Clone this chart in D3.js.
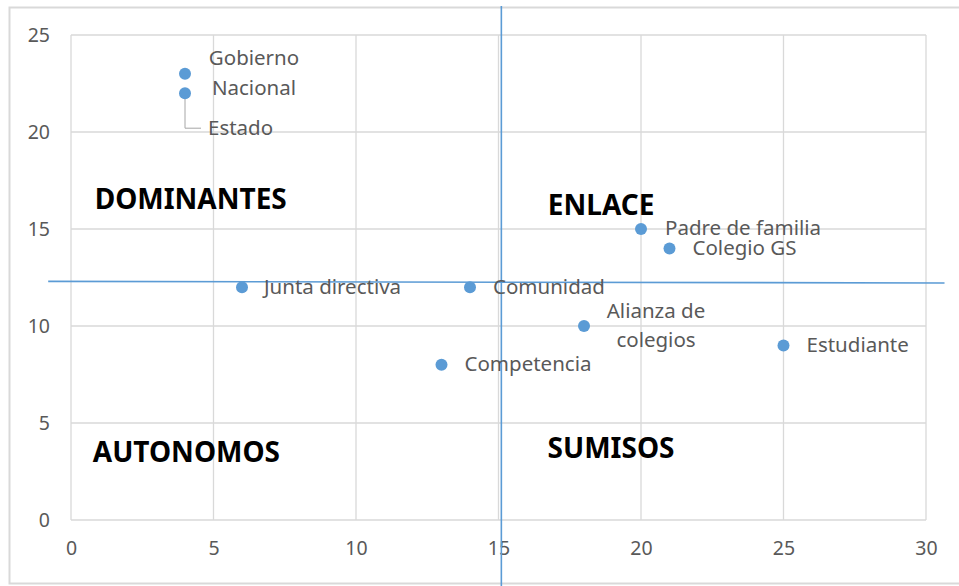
<!DOCTYPE html>
<html>
<head>
<meta charset="utf-8">
<script src="https://cdn.jsdelivr.net/npm/d3@7"></script>
<style>
  body { margin: 0; background: #fff; }
  svg { display: block; }
</style>
</head>
<body>
<div id="chart"></div>
<script>
// scatter of actors by influence (x) vs dependency (y)
var names = ["Gobierno Nacional", "Estado", "Junta directiva", "Comunidad", "Competencia",
             "Alianza de colegios", "Padre de familia", "Colegio GS", "Estudiante"];
var xValues = [4, 4, 6, 14, 13, 18, 20, 21, 25];
var yValues = [23, 22, 12, 12, 8, 10, 15, 14, 9];
var xTicks = [0, 5, 10, 15, 20, 25, 30];
var yTicks = [0, 5, 10, 15, 20, 25];
var quadrantNames = ["DOMINANTES", "ENLACE", "AUTONOMOS", "SUMISOS"];
var quadrantX = [4.2, 18.6, 4.05, 18.95];
var quadrantY = [16.45, 16.1, 3.4, 3.6];
// the two dividing lines, in data units
var splitX = 15.1;
var splitY = 12.27;

var width = 959, height = 586;
var margin = {top: 35, right: 33, bottom: 66, left: 71};

var svg = d3.select("#chart").append("svg")
    .attr("width", width).attr("height", height);

// outer chart border
svg.append("rect")
   .attr("x", 9.5).attr("y", 7.5)
   .attr("width", 960).attr("height", 576)
   .attr("fill", "none").attr("stroke", "#d9d9d9").attr("stroke-width", 2);

var x = d3.scaleLinear().domain([0, 30]).range([margin.left, width - margin.right]);
var y = d3.scaleLinear().domain([0, 25]).range([height - margin.bottom, margin.top]);

var font = "'Noto Sans', 'Open Sans', sans-serif";
var tickSize = "19.5px";
var labelSize = "20.5px";

// gridlines
svg.append("g")
   .selectAll("line").data(xTicks).enter().append("line")
   .attr("x1", function(d) { return x(d); }).attr("x2", function(d) { return x(d); })
   .attr("y1", y(0)).attr("y2", y(25))
   .attr("stroke", "#d9d9d9").attr("stroke-width", 1.3);

svg.append("g")
   .selectAll("line").data(yTicks).enter().append("line")
   .attr("x1", x(0)).attr("x2", x(30))
   .attr("y1", function(d) { return y(d); }).attr("y2", function(d) { return y(d); })
   .attr("stroke", "#d9d9d9").attr("stroke-width", 1.3);

// axes, only labels
var xAxis = svg.append("g")
   .attr("transform", "translate(0," + (y(0) + 14) + ")")
   .call(d3.axisBottom(x).tickValues(xTicks).tickSize(0).tickPadding(7));
var yAxis = svg.append("g")
   .attr("transform", "translate(" + (x(0) - 21) + ",0)")
   .call(d3.axisLeft(y).tickValues(yTicks).tickSize(0).tickPadding(0));
[xAxis, yAxis].forEach(function(a) {
  a.select(".domain").remove();
  a.selectAll("text").attr("fill", "#595959")
   .style("font-family", font).style("font-size", tickSize);
});

// quadrant dividers
svg.append("line")
   .attr("x1", x(-0.8)).attr("x2", x(30.65))
   .attr("y1", y(splitY + 0.03)).attr("y2", y(splitY - 0.05))
   .attr("stroke", "#5b9bd5").attr("stroke-width", 1.6);
svg.append("line")
   .attr("x1", x(splitX)).attr("x2", x(splitX))
   .attr("y1", y(26.5)).attr("y2", y(-3.5))
   .attr("stroke", "#5b9bd5").attr("stroke-width", 1.6);

// leader line for Estado
svg.append("path")
   .attr("d", "M" + x(xValues[1]) + "," + y(yValues[1]) +
              "V" + (y(yValues[1]) + 35) + "H" + (x(xValues[1]) + 16))
   .attr("fill", "none").attr("stroke", "#a6a6a6").attr("stroke-width", 1);

// points
svg.append("g")
   .selectAll("circle").data(names).enter().append("circle")
   .attr("cx", function(d, i) { return x(xValues[i]); })
   .attr("cy", function(d, i) { return y(yValues[i]); })
   .attr("r", 6)
   .attr("fill", "#5b9bd5");

// point labels: [dx, dy, anchor, wrap]
var labelLayout = {
  "Gobierno Nacional": [69, 0, "middle", true],
  "Estado": [23, 36, "start", false],
  "Junta directiva": [22, 1, "start", false],
  "Comunidad": [23, 1, "start", false],
  "Competencia": [23, 1, "start", false],
  "Alianza de colegios": [72, 0, "middle", true],
  "Padre de familia": [24, 0, "start", false],
  "Colegio GS": [23, 1, "start", false],
  "Estudiante": [23, 1, "start", false]
};

names.forEach(function(n, i) {
  var l = labelLayout[n];
  var t = svg.append("text")
     .attr("x", x(xValues[i]) + l[0])
     .attr("y", y(yValues[i]) + l[1])
     .attr("text-anchor", l[2])
     .attr("dominant-baseline", "middle")
     .attr("fill", "#595959")
     .style("font-family", font).style("font-size", labelSize);
  if (l[3]) {
    var words = n.split(" ");
    var first = words.slice(0, words.length - 1).join(" ");
    var last = words[words.length - 1];
    t.append("tspan").attr("x", x(xValues[i]) + l[0]).attr("dy", "-0.7em").text(first);
    t.append("tspan").attr("x", x(xValues[i]) + l[0]).attr("dy", "1.45em").text(last);
  } else {
    t.text(n);
  }
});

// quadrant names
svg.append("g")
   .selectAll("text").data(quadrantNames).enter().append("text")
   .attr("x", function(d, i) { return x(quadrantX[i]); })
   .attr("y", function(d, i) { return y(quadrantY[i]); })
   .attr("text-anchor", "middle")
   .attr("dominant-baseline", "middle")
   .attr("fill", "#000")
   .style("font-family", font).style("font-size", "28px").style("font-weight", "bold")
   .text(function(d) { return d; });
</script>
</body>
</html>
